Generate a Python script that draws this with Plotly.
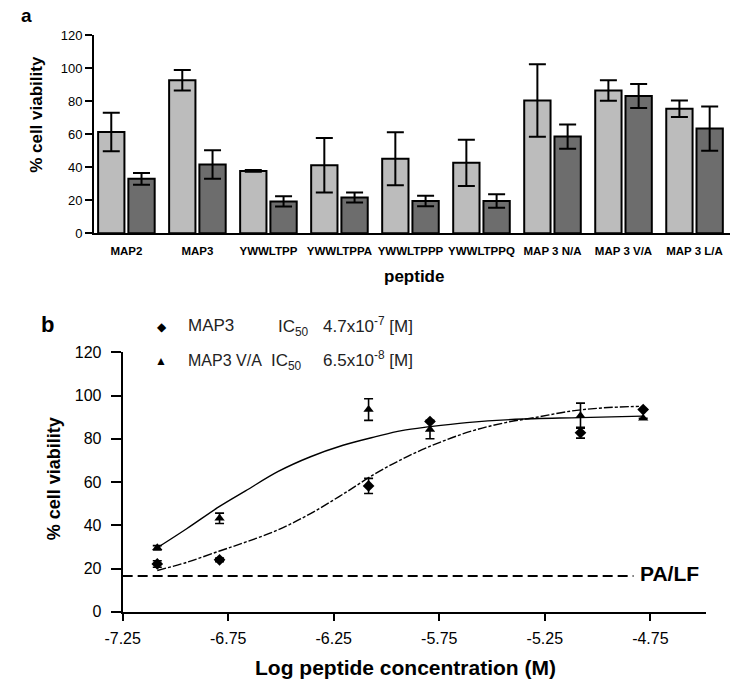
import plotly.graph_objects as go

# ---------------- Panel a data ----------------
peptides = ["MAP2", "MAP3", "YWWLTPP", "YWWLTPPA", "YWWLTPPP", "YWWLTPPQ",
            "MAP 3 N/A", "MAP 3 V/A", "MAP 3 L/A"]
light_vals = [61.4, 92.7, 37.8, 41.3, 45.2, 42.7, 80.5, 86.5, 75.5]
light_err = [11.7, 6.2, 0.5, 16.5, 16.0, 14.0, 22.0, 6.2, 5.0]
dark_vals = [33.0, 41.7, 19.3, 21.7, 19.6, 19.6, 58.6, 83.2, 63.5]
dark_err = [3.6, 8.6, 3.1, 3.0, 3.2, 4.1, 7.4, 7.3, 13.4]
a_yticks = [0, 20, 40, 60, 80, 100, 120]

# ---------------- Panel b data ----------------
log_conc = [-7.086, -6.791, -6.085, -5.794, -5.081, -4.784]
map3_vals = [22.1, 24.0, 58.2, 88.0, 82.8, 93.5]
map3_err = [1.5, 0.8, 3.5, 0.0, 2.5, 0.0]
va_vals = [29.6, 43.2, 93.5, 84.3, 90.7, 89.5]
va_err = [1.0, 2.4, 5.0, 4.3, 5.8, 0.0]

# fitted curves
va_fit_x = [-7.086, -6.945, -6.791, -6.668, -6.513, -6.360, -6.206, -6.051,
            -5.928, -5.794, -5.620, -5.390, -5.081, -4.788]
va_fit_y = [29.6, 38.5, 48.7, 55.9, 64.9, 71.7, 77.0, 81.0,
            83.8, 85.6, 87.5, 89.0, 89.8, 90.5]
map3_fit_x = [-7.086, -6.945, -6.791, -6.668, -6.513, -6.360, -6.206, -6.051,
              -5.897, -5.744, -5.589, -5.435, -5.281, -5.127, -4.973, -4.804]
map3_fit_y = [19.1, 22.9, 28.1, 32.2, 37.9, 45.4, 54.4, 64.0,
              72.0, 78.5, 83.8, 87.5, 90.1, 92.8, 94.3, 95.0]

pa_lf_level = 16.5
pa_lf_x = [-7.25, -4.83]
b_xticks = [-7.25, -6.75, -6.25, -5.75, -5.25, -4.75]
b_xticktext = ["-7.25", "-6.75", "-6.25", "-5.75", "-5.25", "-4.75"]
b_yticks = [0, 20, 40, 60, 80, 100, 120]

W, H = 732, 690
FONT = "Liberation Sans, Arial, sans-serif"


def px(x):
    return x / W


def py(y):
    return 1 - y / H


fig = go.Figure()

# ---------- Panel a bars ----------
fig.add_trace(go.Bar(
    x=peptides, y=light_vals, name="light",
    marker=dict(color="#bcbcbc", line=dict(color="black", width=2)),
    error_y=dict(type="data", array=light_err, color="black", thickness=2, width=8.5),
    xaxis="x", yaxis="y", showlegend=False))
fig.add_trace(go.Bar(
    x=peptides, y=dark_vals, name="dark",
    marker=dict(color="#6d6d6d", line=dict(color="black", width=2)),
    error_y=dict(type="data", array=dark_err, color="black", thickness=2, width=8.5),
    xaxis="x", yaxis="y", showlegend=False))

# ---------- Panel b ----------
fig.add_trace(go.Scatter(
    x=pa_lf_x, y=[pa_lf_level, pa_lf_level], mode="lines",
    line=dict(color="black", width=2, dash="10px,5px"),
    xaxis="x2", yaxis="y2", showlegend=False))
fig.add_trace(go.Scatter(
    x=va_fit_x, y=va_fit_y, mode="lines", line_shape="spline",
    line=dict(color="black", width=1.4),
    xaxis="x2", yaxis="y2", showlegend=False))
fig.add_trace(go.Scatter(
    x=map3_fit_x, y=map3_fit_y, mode="lines", line_shape="spline",
    line=dict(color="black", width=1.4, dash="9px,2px,3px,2px"),
    xaxis="x2", yaxis="y2", showlegend=False))
fig.add_trace(go.Scatter(
    x=log_conc, y=map3_vals, mode="markers",
    marker=dict(symbol="diamond", size=9, color="black"),
    error_y=dict(type="data", array=map3_err, color="black", thickness=1.6, width=4.5),
    xaxis="x2", yaxis="y2", showlegend=False))
fig.add_trace(go.Scatter(
    x=log_conc, y=va_vals, mode="markers",
    marker=dict(symbol="triangle-up", size=9, color="black"),
    error_y=dict(type="data", array=va_err, color="black", thickness=1.6, width=4.5),
    xaxis="x2", yaxis="y2", showlegend=False))

fig.update_layout(
    width=W, height=H,
    margin=dict(l=0, r=0, t=0, b=0),
    paper_bgcolor="white", plot_bgcolor="white",
    font=dict(family=FONT, color="black"),
    barmode="group", bargap=0.148, bargroupgap=0.13,
    xaxis=dict(domain=[px(78), px(730)], range=[-0.455, 8.5], anchor="y",
               showline=True, linecolor="black", linewidth=2,
               ticks="", showgrid=False, zeroline=False, tickangle=0,
               tickfont=dict(size=11.5, family=FONT, weight="bold"),
               ticklabelstandoff=6),
    yaxis=dict(domain=[py(231), py(28)], range=[0, 120], anchor="x",
               tickvals=a_yticks, showline=True, linecolor="black", linewidth=2,
               ticks="outside", ticklen=7, tickwidth=2, tickcolor="black",
               showgrid=False, zeroline=False,
               tickfont=dict(size=13, family=FONT)),
    xaxis2=dict(domain=[px(107.3), px(705)], range=[-7.25, -4.488], anchor="y2",
                tickvals=b_xticks, ticktext=b_xticktext,
                showline=True, linecolor="black", linewidth=2,
                ticks="outside", ticklen=7, tickwidth=2, tickcolor="black",
                showgrid=False, zeroline=False, tickangle=0,
                tickfont=dict(size=16, family=FONT), ticklabelstandoff=4),
    yaxis2=dict(domain=[py(619), py(353)], range=[0, 120], anchor="x2",
                tickvals=b_yticks, showline=True, linecolor="black", linewidth=2,
                ticks="outside", ticklen=10, tickwidth=2, tickcolor="black",
                showgrid=False, zeroline=False,
                tickfont=dict(size=16, family=FONT), ticklabelstandoff=6),
)

ann = []


def add_text(text, x, y, size, bold=False, xanchor="center", yanchor="middle",
             angle=0, color="black"):
    ann.append(dict(text=text, x=px(x), y=py(y), xref="paper", yref="paper",
                    xanchor=xanchor, yanchor=yanchor, showarrow=False,
                    textangle=angle,
                    font=dict(size=size, family=FONT, color=color,
                              weight="bold" if bold else "normal")))


# panel labels
add_text("a", 1, 8, 19, bold=True, xanchor="left")
add_text("b", 22, 324, 22, bold=True, xanchor="left")

# panel a titles
add_text("% cell viability", 19, 109, 17, bold=True, angle=-90)
add_text("peptide", 406, 275, 17, bold=True)

# panel b titles
add_text("% cell viability", 37, 483, 18, bold=True, angle=-90)
add_text("Log peptide concentration (M)", 397, 676, 21, bold=True)
add_text("PA/LF", 636, 580, 21, bold=True, xanchor="left")

# legend
add_text("◆", 148, 327, 12)
add_text("▲", 147, 362, 12)
add_text("MAP3", 172, 326, 17, xanchor="left", color="#222")
add_text("MAP3 V/A", 172, 361, 16, xanchor="left", color="#222")
add_text("IC<sub>50</sub>", 265, 328, 17, xanchor="left", color="#222")
add_text("IC<sub>50</sub>", 257, 363, 17, xanchor="left", color="#222")
add_text("4.7x10<sup>-7</sup> [M]", 311, 325, 17, xanchor="left", color="#222")
add_text("6.5x10<sup>-8</sup> [M]", 311, 360, 17, xanchor="left", color="#222")

fig.update_layout(annotations=ann)

fig.write_html(
    "out.html",
    config={"displayModeBar": False},
    post_script="document.body.style.margin='0';document.body.style.padding='0';"
                "document.body.style.overflow='hidden';"
                "document.documentElement.style.overflow='hidden';",
)
